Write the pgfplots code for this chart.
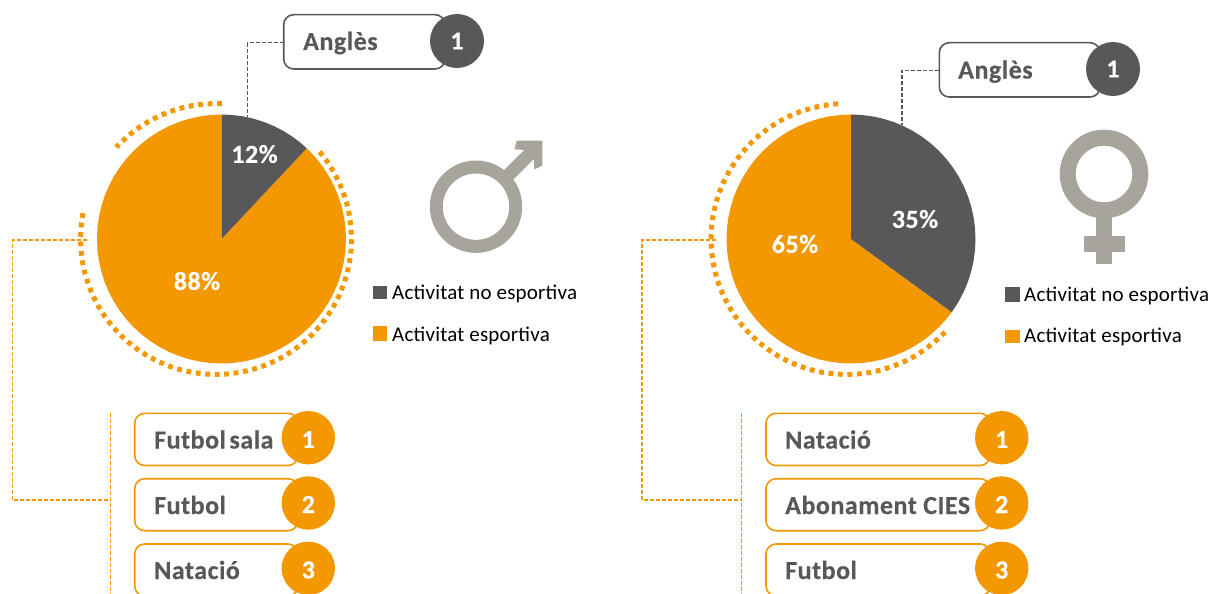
\documentclass[border=0pt]{standalone}
\usepackage{fontspec}
\usepackage{pgfplots}
\pgfplotsset{compat=1.18}
\usepgfplotslibrary{polar}
\setmainfont{Carlito}
\newfontfamily\bfc[LetterSpace=2,FakeBold=0.25]{Carlito Bold}
\newfontfamily\rgc[LetterSpace=1]{Carlito}
\definecolor{oran}{HTML}{F39800}
\definecolor{grey}{HTML}{58585A}
\definecolor{symb}{HTML}{A7A59B}
\pgfplotsset{
  pie/.style={hide axis,clip=false,scale only axis,width=249pt,height=249pt,xmin=0,xmax=360,ymin=0,ymax=1,anchor=center},
  ringax/.style={hide axis,clip=false,scale only axis,width=271pt,height=271pt,xmin=0,xmax=360,ymin=0,ymax=1,anchor=center},
}
\tikzset{
  dots/.style={oran,line width=5pt,dash pattern=on 4.8pt off 4.7pt,no markers,line join=miter},
  lab/.style={font=\fontsize{26}{26}\bfc,inner sep=0pt,anchor=base west,text=grey},
  num/.style={font=\fontsize{26}{26}\bfc,inner sep=0pt,anchor=center,text=white},
  leg/.style={font=\fontsize{21}{21}\rgc,inner sep=0pt,anchor=base west,text=black},
  conn/.style={line width=1.5pt,dash pattern=on 4pt off 2pt},
  box/.style={line width=1.6pt,rounded corners=10pt,fill=white},
}
\begin{document}
\begin{tikzpicture}
\path[use as bounding box,clip] (0,0) rectangle (1213pt,594pt);
% left ring
\begin{polaraxis}[ringax,at={(216pt,355pt)}]
\addplot[dots] coordinates {(169,1)(175,1)(180,1)(185,1)(190,1)(195,1)(200,1)(205,1)(210,1)(215,1)(220,1)(225,1)(230,1)(235,1)(240,1)(245,1)(250,1)(255,1)(260,1)(265,1)(270,1)(275,1)(280,1)(285,1)(290,1)(295,1)(300,1)(305,1)(310,1)(315,1)(320,1)(325,1)(330,1)(335,1)(340,1)(345,1)(350,1)(355,1)(360,1)(5,1)(10,1)(15,1)(20,1)(25,1)(30,1)(35,1)(40,1)(42,1)};
\addplot[dots] coordinates {(87.5,1)(90,1)(95,1)(100,1)(105,1)(110,1)(115,1)(120,1)(125,1)(130,1)(135,1)(137.4,1)};
\end{polaraxis}
% left pie: 12 / 88
\begin{polaraxis}[pie,at={(221.5pt,355pt)}]
\addplot[fill=oran,draw=none,no markers] coordinates {(0,0)(90,1)(95,1)(100,1)(105,1)(110,1)(115,1)(120,1)(125,1)(130,1)(135,1)(140,1)(145,1)(150,1)(155,1)(160,1)(165,1)(170,1)(175,1)(180,1)(185,1)(190,1)(195,1)(200,1)(205,1)(210,1)(215,1)(220,1)(225,1)(230,1)(235,1)(240,1)(245,1)(250,1)(255,1)(260,1)(265,1)(270,1)(275,1)(280,1)(285,1)(290,1)(295,1)(300,1)(305,1)(310,1)(315,1)(320,1)(325,1)(330,1)(335,1)(340,1)(345,1)(350,1)(355,1)(360,1)(5,1)(10,1)(15,1)(20,1)(25,1)(30,1)(35,1)(40,1)(45,1)(46.8,1)} --cycle;
\addplot[fill=grey,draw=none,no markers] coordinates {(0,0)(90,1)(85,1)(80,1)(75,1)(70,1)(65,1)(60,1)(55,1)(50,1)(46.8,1)} --cycle;
\end{polaraxis}
% right ring
\begin{polaraxis}[ringax,at={(846.5pt,355pt)}]
\addplot[dots] coordinates {(93.6,1)(95,1)(100,1)(105,1)(110,1)(115,1)(120,1)(125,1)(130,1)(135,1)(140,1)(145,1)(150,1)(155,1)(160,1)(165,1)(170,1)(175,1)(180,1)(185,1)(190,1)(195,1)(200,1)(205,1)(210,1)(215,1)(220,1)(225,1)(230,1)(235,1)(240,1)(245,1)(250,1)(255,1)(260,1)(265,1)(270,1)(275,1)(280,1)(285,1)(290,1)(295,1)(300,1)(305,1)(310,1)(315,1)(318,1)};
\end{polaraxis}
% right pie: 35 / 65
\begin{polaraxis}[pie,at={(851pt,355pt)}]
\addplot[fill=oran,draw=none,no markers] coordinates {(0,0)(90,1)(95,1)(100,1)(105,1)(110,1)(115,1)(120,1)(125,1)(130,1)(135,1)(140,1)(145,1)(150,1)(155,1)(160,1)(165,1)(170,1)(175,1)(180,1)(185,1)(190,1)(195,1)(200,1)(205,1)(210,1)(215,1)(220,1)(225,1)(230,1)(235,1)(240,1)(245,1)(250,1)(255,1)(260,1)(265,1)(270,1)(275,1)(280,1)(285,1)(290,1)(295,1)(300,1)(305,1)(310,1)(315,1)(320,1)(324,1)} --cycle;
\addplot[fill=grey,draw=none,no markers] coordinates {(0,0)(90,1)(85,1)(80,1)(75,1)(70,1)(65,1)(60,1)(55,1)(50,1)(45,1)(40,1)(35,1)(30,1)(25,1)(20,1)(15,1)(10,1)(5,1)(0,1)(355,1)(350,1)(345,1)(340,1)(335,1)(330,1)(325,1)(324,1)} --cycle;
\end{polaraxis}
% everything else, in pixel coordinates
\begin{axis}[hide axis,clip=false,scale only axis,width=1213pt,height=594pt,xmin=0,xmax=1213,ymin=0,ymax=594,y dir=reverse,at={(0,0)},anchor=south west]
% connectors
\draw[conn,grey] (283.7,42.7) -- (247.7,42.7) -- (247.7,117);
\draw[conn,grey] (939.3,70.5) -- (902,70.5) -- (902,125);
\draw[conn,oran] (87,240) -- (12.5,240) -- (12.5,500) -- (110.3,500);
\draw[conn,oran] (110.3,413) -- (110.3,600);
\draw[conn,oran] (716,240) -- (642,240) -- (642,500) -- (741.7,500);
\draw[conn,oran] (741.7,413) -- (741.7,600);
% top boxes
\draw[box,draw=grey] (283.7,14.7) rectangle (445,69);
\fill[grey] (457,41) circle[radius=27];
\node[lab] at (303,50) {Anglès};
\node[num] at (457,41) {1};
\draw[box,draw=grey] (939.3,42.7) rectangle (1100,97);
\fill[grey] (1113,69) circle[radius=27];
\node[lab] at (958,78.5) {Anglès};
\node[num] at (1113,69) {1};
% left boxes
\draw[box,draw=oran] (134.7,413.3) rectangle (298,465.5);
\draw[box,draw=oran] (134.7,478.7) rectangle (298,530.7);
\draw[box,draw=oran] (134.7,544) rectangle (298,596);
\fill[oran] (308.3,437.7) circle[radius=26.7];
\fill[oran] (308.3,503) circle[radius=26.7];
\fill[oran] (308.3,568.3) circle[radius=26.7];
\node[lab] at (154,448.5) {Futbol\hspace{-3pt} sala};
\node[lab] at (154,514) {Futbol};
\node[lab] at (154,579) {Natació};
\node[num] at (308.3,439.5) {1};
\node[num] at (308.3,504.5) {2};
\node[num] at (308.3,570) {3};
% right boxes
\draw[box,draw=oran] (766,413.3) rectangle (990,465.5);
\draw[box,draw=oran] (766,478.7) rectangle (990,530.7);
\draw[box,draw=oran] (766,544) rectangle (990,596);
\fill[oran] (1001.7,437.7) circle[radius=26.7];
\fill[oran] (1001.7,503) circle[radius=26.7];
\fill[oran] (1001.7,568.3) circle[radius=26.7];
\node[lab] at (785,448.5) {Natació};
\node[lab] at (785,514) {Abonament CIES};
\node[lab] at (785,579) {Futbol};
\node[num] at (1001.7,439.5) {1};
\node[num] at (1001.7,504.5) {2};
\node[num] at (1001.7,570) {3};
% percentages
\node[num] at (254.5,154) {12\%};
\node[num] at (197,281) {88\%};
\node[num] at (915,219) {35\%};
\node[num] at (795,244) {65\%};
% legends
\fill[grey] (373.3,285.7) rectangle (386.7,299);
\fill[oran] (373.3,326) rectangle (386.7,340.7);
\node[leg] at (392,299) {Activitat no esportiva};
\node[leg] at (392,341) {Activitat esportiva};
\fill[grey] (1005,287.3) rectangle (1020,301.7);
\fill[oran] (1005,330) rectangle (1020,342.7);
\node[leg] at (1024,301.7) {Activitat no esportiva};
\node[leg] at (1024,342.7) {Activitat esportiva};
% gender symbols
\draw[symb,line width=13pt] (476,206.7) circle[radius=39.7];
\fill[symb] (503.3,170.7) -- (524.3,150) -- (514.3,149.3) -- (516.7,140.7) -- (542.3,140.7) -- (542.3,165.7) -- (534.3,169.3) -- (533.7,159.3) -- (512.7,180) -- cycle;
\draw[symb,line width=16pt] (1104,174) circle[radius=36.3];
\fill[symb] (1096,215) rectangle (1112.3,264.3);
\fill[symb] (1084,236) rectangle (1125,252.3);
\end{axis}
\end{tikzpicture}
\end{document}
